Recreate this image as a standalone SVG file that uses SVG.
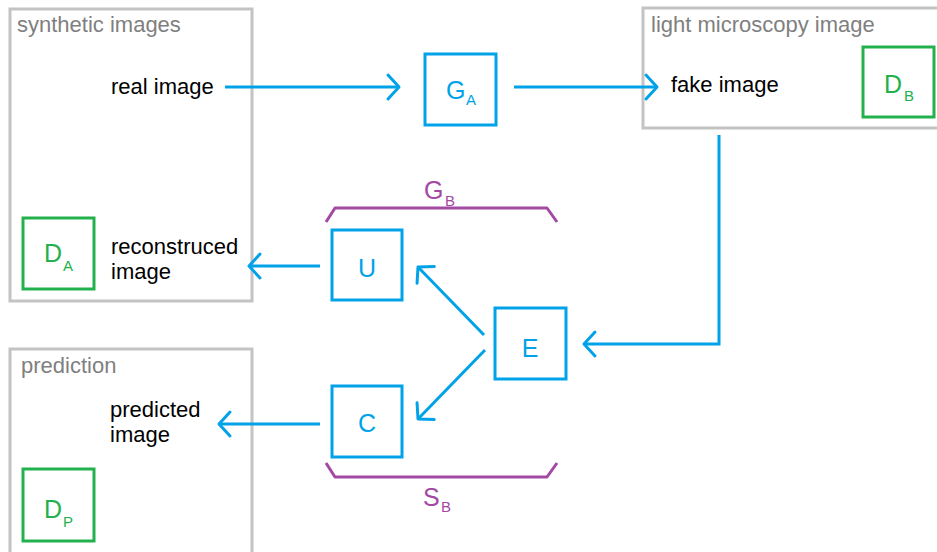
<svg xmlns="http://www.w3.org/2000/svg" width="937" height="552" viewBox="0 0 937 552">
  <style>
    text { font-family: "Liberation Sans", Arial, sans-serif; }
    .frame { fill: #ffffff; stroke: #c3c3c3; stroke-width: 3; }
    .title { font-size: 22px; fill: #7f7f7f; }
    .label { font-size: 22px; fill: #000000; }
    .net { fill: none; stroke: #00a2e8; stroke-width: 3; }
    .disc { fill: none; stroke: #22b14c; stroke-width: 3; }
    .netText { font-size: 25px; fill: #00a2e8; }
    .discText { font-size: 25px; fill: #22b14c; }
    .brace { fill: none; stroke: #a349a4; stroke-width: 3; stroke-linejoin: round; }
    .braceText { font-size: 25px; fill: #a349a4; }
    .sub { font-size: 15px; }
    .wire { fill: none; stroke: #00a2e8; stroke-width: 3; }
  </style>
  <defs>
    <marker id="chevron" markerUnits="userSpaceOnUse" viewBox="-14 -16 17 32" refX="0" refY="0" markerWidth="17" markerHeight="32" orient="auto" overflow="visible">
      <path d="M-11,-12 L0,0 L-11,12" fill="none" stroke="#00a2e8" stroke-width="3" stroke-linecap="round" stroke-linejoin="round"/>
    </marker>
  </defs>

  <rect width="937" height="552" fill="#ffffff"/>

  <!-- containers -->
  <g id="synthetic-images">
    <rect class="frame" x="10" y="9" width="242" height="292"/>
    <text class="title" x="17" y="32">synthetic images</text>
    <text class="label" x="111" y="94">real image</text>
    <text class="label" x="111" y="254">reconstruced</text>
    <text class="label" x="111" y="279">image</text>
  </g>
  <g id="light-microscopy-image">
    <rect class="frame" x="643" y="8" width="310" height="120"/>
    <text class="title" x="651" y="32">light microscopy image</text>
    <text class="label" x="671" y="92">fake image</text>
  </g>
  <g id="prediction">
    <rect class="frame" x="10" y="349" width="242" height="220"/>
    <text class="title" x="21" y="373">prediction</text>
    <text class="label" x="110" y="417">predicted</text>
    <text class="label" x="110" y="442">image</text>
  </g>

  <!-- discriminators -->
  <g id="DA">
    <rect class="disc" x="23" y="218" width="71" height="71"/>
    <text class="discText" x="44" y="262">D<tspan class="sub" x="63" y="271">A</tspan></text>
  </g>
  <g id="DB">
    <rect class="disc" x="863" y="47" width="71" height="70"/>
    <text class="discText" x="884" y="93">D<tspan class="sub" x="904" y="101">B</tspan></text>
  </g>
  <g id="DP">
    <rect class="disc" x="23" y="469" width="71" height="72"/>
    <text class="discText" x="44" y="518">D<tspan class="sub" x="63" y="527">P</tspan></text>
  </g>

  <!-- networks -->
  <g id="GA">
    <rect class="net" x="425" y="54" width="71" height="71"/>
    <text class="netText" x="446" y="99">G<tspan class="sub" x="466" y="105">A</tspan></text>
  </g>
  <g id="U">
    <rect class="net" x="332" y="230" width="70" height="70"/>
    <text class="netText" x="367" y="277" text-anchor="middle">U</text>
  </g>
  <g id="E">
    <rect class="net" x="495" y="308" width="71" height="71"/>
    <text class="netText" x="530" y="357" text-anchor="middle">E</text>
  </g>
  <g id="C">
    <rect class="net" x="332" y="386" width="70" height="71"/>
    <text class="netText" x="367" y="432" text-anchor="middle">C</text>
  </g>

  <!-- groupings -->
  <g id="GB">
    <path class="brace" d="M326,222 L335,208 L547,208 L557,222"/>
    <text class="braceText" x="424" y="199">G<tspan class="sub" x="445" y="206">B</tspan></text>
  </g>
  <g id="SB">
    <path class="brace" d="M326,463 L335,477 L547,477 L557,463"/>
    <text class="braceText" x="423" y="506">S<tspan class="sub" x="441" y="512">B</tspan></text>
  </g>

  <!-- connectors -->
  <g id="connectors">
    <path class="wire" d="M225,87 H399" marker-end="url(#chevron)"/>
    <path class="wire" d="M514,87 H657" marker-end="url(#chevron)"/>
    <path class="wire" d="M719,135 V344 H584" marker-end="url(#chevron)"/>
    <path class="wire" d="M484,335 L418,267" marker-end="url(#chevron)"/>
    <path class="wire" d="M485,350 L418,419" marker-end="url(#chevron)"/>
    <path class="wire" d="M320,266 H249" marker-end="url(#chevron)"/>
    <path class="wire" d="M320,424 H219" marker-end="url(#chevron)"/>
  </g>
</svg>
